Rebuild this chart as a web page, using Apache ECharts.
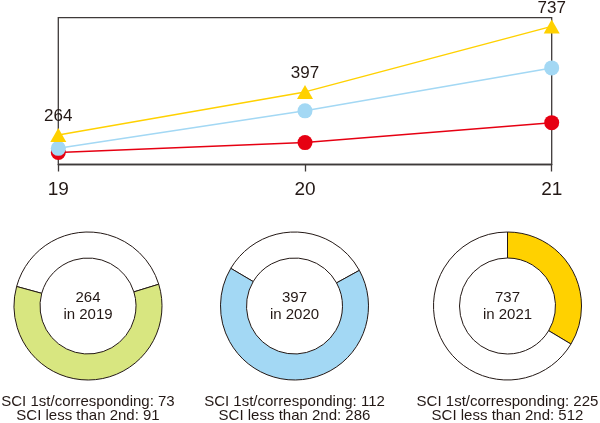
<!DOCTYPE html>
<html>
<head>
<meta charset="utf-8">
<script src="https://cdn.jsdelivr.net/npm/echarts@6/dist/echarts.min.js"></script>
<style>
html,body{margin:0;padding:0;background:#fff;}
#chart{width:600px;height:423px;}
</style>
</head>
<body>
<div id="chart"></div>
<script>
// ---- data ----
const years = ['19', '20', '21'];
const totalValues = [264, 397, 737];          // yellow triangles (labelled)
const blueValues = [233, 332, 498];           // light blue circles (estimated on log axis)
const redValues = [224, 246, 297];            // red circles (estimated on log axis)

const donutYears = ['2019', '2020', '2021'];
const donutTotals = [264, 397, 737];
const donut2019 = [41.0, 59.0];   // [white, green] share
const donut2020 = [33.5, 66.5];   // [white, blue] share
const donut2021 = [33.6, 66.4];   // [yellow, white] share
const firstCorr = [73, 112, 225];
const lessSecond = [91, 286, 512];

// ---- styles ----
const ink = '#231815';
const boxColor = '#3e3a39';
const yellow = '#FFD100';
const blue = '#A3D8F4';
const red = '#E60012';
const green = '#D8E680';
const font = '"Liberation Sans", Arial, Helvetica, sans-serif';

const centers = [88, 294.5, 507.5];
const centerY = 306;

function donut(data, colors, startAngle, idx) {
  return {
    type: 'pie',
    center: [centers[idx], centerY],
    radius: [48, 74],
    startAngle: startAngle,
    clockwise: true,
    silent: true,
    animation: false,
    itemStyle: { borderColor: ink, borderWidth: 1 },
    label: {
      show: true,
      position: 'center',
      formatter: function (p) {
        return p.dataIndex === 0 ? donutTotals[idx] + '\nin ' + donutYears[idx] : '';
      },
      fontFamily: font,
      fontSize: 15,
      lineHeight: 17,
      color: ink
    },
    labelLine: { show: false },
    emphasis: { disabled: true },
    data: data.map(function (v, i) {
      return { value: v, itemStyle: { color: colors[i] } };
    })
  };
}

const chart = echarts.init(document.getElementById('chart'), null, { renderer: 'canvas' });

const graphicTexts = [0, 1, 2].map(function (i) {
  return {
    type: 'text',
    x: centers[i],
    y: 409,
    style: {
      text: 'SCI 1st/corresponding: ' + firstCorr[i] + '\nSCI less than 2nd: ' + lessSecond[i],
      font: '15px ' + font,
      fill: ink,
      align: 'center',
      verticalAlign: 'middle',
      lineHeight: 14.5
    }
  };
});

chart.setOption({
  animation: false,
  backgroundColor: '#fff',
  grid: {
    left: 58.3, right: 48.3, top: 17.7, bottom: 258.5,
    show: true, borderColor: boxColor, borderWidth: 1.3, backgroundColor: 'transparent'
  },
  xAxis: {
    type: 'category',
    data: years,
    boundaryGap: false,
    axisLine: { lineStyle: { color: boxColor, width: 1.3 } },
    axisTick: { show: true, length: 7, lineStyle: { color: boxColor, width: 1.3 } },
    axisLabel: { fontFamily: font, fontSize: 19, color: ink, margin: 16 },
    splitLine: { show: false }
  },
  yAxis: {
    type: 'log',
    logBase: 10,
    min: 200,
    max: 800,
    axisLine: { show: false },
    axisTick: { show: false },
    axisLabel: { show: false },
    splitLine: { show: false }
  },
  series: [
    {
      type: 'line', data: redValues, clip: false,
      symbol: 'circle', symbolSize: 15,
      lineStyle: { color: red, width: 1.5 },
      itemStyle: { color: red },
      emphasis: { disabled: true }
    },
    {
      type: 'line', data: blueValues, clip: false,
      symbol: 'circle', symbolSize: 15,
      lineStyle: { color: blue, width: 1.5 },
      itemStyle: { color: blue },
      emphasis: { disabled: true }
    },
    {
      type: 'line', data: totalValues, clip: false,
      symbol: 'triangle', symbolSize: [16, 14],
      lineStyle: { color: yellow, width: 1.5 },
      itemStyle: { color: yellow },
      label: { show: true, position: 'top', distance: 3, fontFamily: font, fontSize: 17, color: ink },
      emphasis: { disabled: true }
    },
    donut(donut2019, ['#ffffff', green], 164.7, 0),
    donut(donut2020, ['#ffffff', blue], 149.4, 1),
    donut(donut2021, [yellow, '#ffffff'], 90, 2)
  ],
  graphic: graphicTexts
});
</script>
</body>
</html>
